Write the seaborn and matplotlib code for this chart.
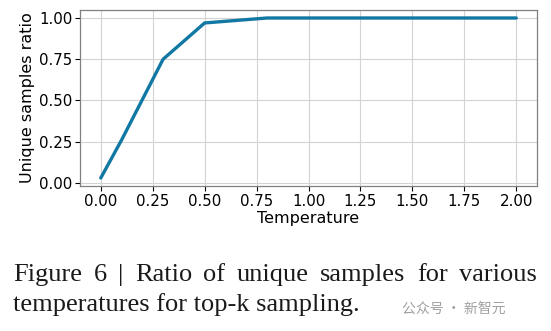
import matplotlib
matplotlib.use("Agg")
import matplotlib.pyplot as plt
import seaborn as sns
import pandas as pd

temperature = [0.0, 0.1, 0.3, 0.5, 0.8, 1.0, 1.2, 1.5, 1.8, 2.0]
unique_ratio = [0.03, 0.26, 0.75, 0.97, 1.0, 1.0, 1.0, 1.0, 1.0, 1.0]
x_label = "Temperature"
y_label = "Unique samples ratio"
caption_lines = ["Figure 6 | Ratio of unique samples for various",
                 "temperatures for top-k sampling."]
watermark = "公众号 · 新智元"

sns.set_theme(style="whitegrid")
plt.rcParams['font.family'] = ['DejaVu Sans']

df = pd.DataFrame({"Temperature": temperature, "ratio": unique_ratio})

W, H = 551, 331
fig = plt.figure(figsize=(W / 100, H / 100), dpi=100)
ax = fig.add_axes([80/W, 1-186/H, (537-80)/W, (186-10)/H])
sns.lineplot(data=df, x="Temperature", y="ratio", ax=ax, color="#1178a3", linewidth=2.4)
ax.set_xticks([0, 0.25, 0.5, 0.75, 1.0, 1.25, 1.5, 1.75, 2.0])
ax.set_yticks([0, 0.25, 0.5, 0.75, 1.0])
ax.xaxis.set_major_formatter(matplotlib.ticker.FormatStrFormatter('%.2f'))
ax.yaxis.set_major_formatter(matplotlib.ticker.FormatStrFormatter('%.2f'))
ax.set_xlim(-0.1, 2.1)
ax.set_ylim(-0.0185, 1.0485)
ax.set_xlabel(x_label, fontsize=11.5, labelpad=2, color="black")
ax.set_ylabel(y_label, fontsize=11.5, labelpad=3, color="black")
ax.tick_params(axis="both", labelsize=10.8, colors="black", length=3.5, width=0.8,
               direction="out", bottom=True, left=True, pad=2)
ax.grid(True, color="#d3d3d3", linewidth=0.8)
ax.set_facecolor("white")
for s in ax.spines.values():
    s.set_color("#808080")
    s.set_linewidth(0.9)

cap_kw = dict(family="Liberation Serif", fontsize=19, color="#1a1a1a",
              va="baseline", ha="left")
renderer = fig.canvas.get_renderer()

# line 1: justified between x=13 and x=537 px
words = caption_lines[0].split(" ")
texts = [fig.text(0, 1-281/H, w, **cap_kw) for w in words]
widths = [t.get_window_extent(renderer).width for t in texts]
gap = (537 - 13 - sum(widths)) / (len(words) - 1)
x = 13.0
for t, w in zip(texts, widths):
    t.set_x(x / W)
    x += w + gap

fig.text(13/W, 1-311/H, caption_lines[1], **cap_kw)
fig.text(505/W, 1-313/H, watermark, family=["Noto Sans CJK SC", "DejaVu Sans"],
         fontsize=10, color="#a0a0a0", va="baseline", ha="right")

fig.savefig("out.png", dpi=100, facecolor="white")
